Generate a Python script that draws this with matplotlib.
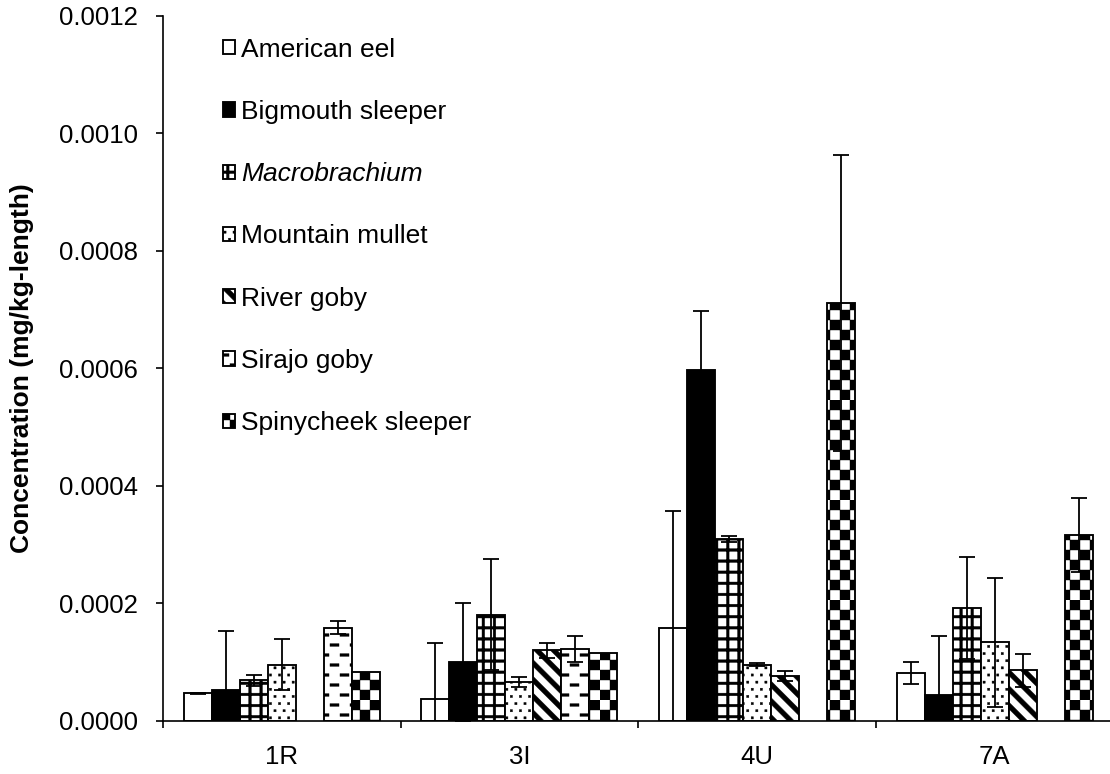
import warnings
warnings.filterwarnings("ignore")
import numpy as np
import matplotlib
matplotlib.use("Agg")
import matplotlib.pyplot as plt
from matplotlib import hatch as mhatch
from matplotlib.path import Path
from matplotlib.ticker import FormatStrFormatter

nan = np.nan

# ---------------- data ----------------
sites = ["1R", "3I", "4U", "7A"]
species = ["American eel", "Bigmouth sleeper", "Macrobrachium", "Mountain mullet",
           "River goby", "Sirajo goby", "Spinycheek sleeper"]

american_eel = [0.000047, 0.0000375, 0.000158, 0.000082]
american_eel_err = [0.000001, 0.000096, 0.000200, 0.000019]
bigmouth_sleeper = [0.000052, 0.000100, 0.000597, 0.000044]
bigmouth_sleeper_err = [0.000101, 0.000100, 0.000101, 0.000101]
macrobrachium = [0.000069, 0.000181, 0.000309, 0.000192]
macrobrachium_err = [0.000010, 0.000094, 0.000005, 0.000087]
mountain_mullet = [0.000096, 0.000067, 0.000096, 0.000134]
mountain_mullet_err = [0.000044, 0.0000085, 0.000002, 0.000110]
river_goby = [nan, 0.000120, 0.000077, 0.000086]
river_goby_err = [nan, 0.0000135, 0.0000085, 0.000028]
sirajo_goby = [0.000159, 0.000122, nan, nan]
sirajo_goby_err = [0.0000115, 0.000022, nan, nan]
spinycheek_sleeper = [0.000084, 0.000115, 0.000711, 0.000316]
spinycheek_sleeper_err = [nan, nan, 0.000252, 0.000063]

y_ticks = [0.0, 0.0002, 0.0004, 0.0006, 0.0008, 0.0010, 0.0012]


# ---------------- custom hatch patterns (filled shapes) ----------------
class _PolyHatch(mhatch.HatchPatternBase):
    char = None

    def __init__(self, hatch, density):
        self.polys = self.make() if (hatch and self.char in hatch) else []
        self.num_vertices = 5 * len(self.polys)

    def make(self):
        return []

    def set_vertices_and_codes(self, vertices, codes):
        for i, poly in enumerate(self.polys):
            vertices[5 * i:5 * i + 4] = poly
            vertices[5 * i + 4] = poly[0]
            codes[5 * i] = Path.MOVETO
            codes[5 * i + 1:5 * i + 4] = Path.LINETO
            codes[5 * i + 4] = Path.CLOSEPOLY


def _rect(x0, y0, x1, y1):
    return [(x0, y0), (x1, y0), (x1, y1), (x0, y1)]


class CheckerHatch(_PolyHatch):
    char = 'c'

    def make(self):
        n = 10
        return [_rect(i / n, j / n, (i + 1) / n, (j + 1) / n)
                for i in range(n) for j in range(n) if (i + j) % 2 == 0]


class GridHatch(_PolyHatch):
    char = 'g'

    def make(self):
        n, t = 9, 0.026
        out = []
        for k in range(n):
            c = (k + 0.5) / n
            out.append(_rect(0, c - t / 2, 1, c + t / 2))
            out.append(_rect(c - t / 2, 0, c + t / 2, 1))
        return out


class DotHatch(_PolyHatch):
    char = 'd'

    def make(self):
        nr, nc, s = 14, 11, 0.022
        out = []
        for r in range(nr):
            y = (r + 0.5) / nr
            off = 0.5 if r % 2 else 0.0
            for c in range(-1, nc + 1):
                x = (c + 0.25 + off) / nc
                out.append(_rect(x - s / 2, y - s / 2, x + s / 2, y + s / 2))
        return out


class StripeHatch(_PolyHatch):
    char = 's'

    def make(self):
        n, w = 6, 0.068
        out = []
        for k in range(-1, 2 * n + 2):
            c = k / n
            out.append([(-1, c + 1), (2, c - 2), (2, c - 2 + w), (-1, c + 1 + w)])
        return out


class DashHatch(_PolyHatch):
    char = 'h'

    def make(self):
        nr, p, L, t = 10, 0.2, 0.09, 0.026
        out = []
        for r in range(nr):
            y = (r + 0.5) / nr
            off = p / 2 if r % 2 else 0.0
            for k in range(-1, 6):
                x0 = k * p + off
                out.append(_rect(x0, y - t / 2, x0 + L, y + t / 2))
        return out


for cls in (CheckerHatch, GridHatch, DotHatch, StripeHatch, DashHatch):
    mhatch._hatch_types.append(cls)

# ---------------- figure ----------------
plt.rcParams['font.family'] = ['Liberation Sans', 'DejaVu Sans']
plt.rcParams['hatch.linewidth'] = 0.3
plt.rcParams['hatch.color'] = 'black'

fig = plt.figure(figsize=(11.1, 7.74), dpi=100)
ax = fig.add_axes([163 / 1110, 53 / 774, 950.5 / 1110, 705.3 / 774])

series = [
    (species[0], american_eel, american_eel_err, 'white', None),
    (species[1], bigmouth_sleeper, bigmouth_sleeper_err, 'black', None),
    (species[2], macrobrachium, macrobrachium_err, 'white', 'g'),
    (species[3], mountain_mullet, mountain_mullet_err, 'white', 'd'),
    (species[4], river_goby, river_goby_err, 'white', 's'),
    (species[5], sirajo_goby, sirajo_goby_err, 'white', 'h'),
    (species[6], spinycheek_sleeper, spinycheek_sleeper_err, 'white', 'c'),
]

x = np.arange(len(sites))
w = 0.1178
for i, (name, vals, errs, face, hatch) in enumerate(series):
    vals = np.asarray(vals, dtype=float)
    errs = np.asarray(errs, dtype=float)
    xs = x + (i - 3) * w
    m = np.isfinite(vals)
    ax.bar(xs[m], vals[m], width=w, color=face, edgecolor='black',
           linewidth=1.35, hatch=hatch, label=name, zorder=2)
    em = m & np.isfinite(errs)
    ax.errorbar(xs[em], vals[em], yerr=errs[em], fmt='none', ecolor='black',
                elinewidth=1.3, capsize=5.8, capthick=1.3, zorder=3)

ax.set_xlim(-0.5, 3.5)
ax.set_ylim(0, 0.0012)
ax.set_yticks(y_ticks)
ax.yaxis.set_major_formatter(FormatStrFormatter('%.4f'))
ax.set_xticks(np.arange(-0.5, 4.0, 1.0))
ax.set_xticklabels([])
ax.set_xticks(x, minor=True)
ax.set_xticklabels(sites, minor=True)

for s in ('top', 'right'):
    ax.spines[s].set_visible(False)
for s in ('left', 'bottom'):
    ax.spines[s].set_linewidth(1.2)
    ax.spines[s].set_zorder(4)

ax.tick_params(axis='y', which='major', direction='out', length=4.8, width=1.2,
               labelsize=18.5, pad=13)
ax.tick_params(axis='x', which='major', direction='out', length=5, width=1.2)
ax.tick_params(axis='x', which='minor', length=0, labelsize=18.5, pad=17)

ax.set_ylabel('Concentration (mg/kg-length)', fontsize=19, fontweight='bold')
ax.yaxis.set_label_coords(-0.136, 0.5)

leg = ax.legend(loc='upper left', bbox_to_anchor=(0.0628, 0.969), frameon=False,
                fontsize=19, handlelength=0.46, handleheight=0.46,
                handletextpad=0.25, labelspacing=1.45, borderpad=0,
                borderaxespad=0)
leg.get_texts()[2].set_fontstyle('italic')

fig.savefig('out.png', dpi=100)
